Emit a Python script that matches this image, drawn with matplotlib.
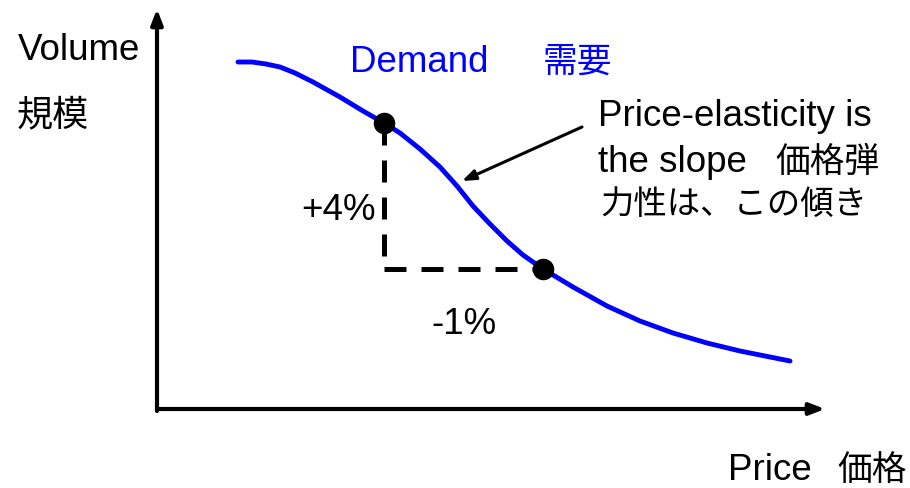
import matplotlib.pyplot as plt

plt.rcParams['font.family'] = ['Liberation Sans', 'Noto Sans CJK JP', 'DejaVu Sans']

# demand curve (pixel-like units, y grows downward)
curve_x = [238, 252, 266, 280, 295, 313, 340, 363, 384, 400, 420, 440, 457,
           473, 490, 507, 523, 543, 573, 607, 640, 673, 707, 740, 765, 790]
curve_y = [63, 63, 65, 68, 74, 83, 98, 112, 124, 134, 150, 168, 187,
           207, 225, 242, 256, 270, 288, 307, 322, 334, 344, 352, 357, 362]

# the two marked points on the curve
point_x = [384, 543]
point_y = [124, 270]

fig = plt.figure(figsize=(9.1, 4.89), dpi=100, facecolor='white')
ax = fig.add_axes([0, 0, 1, 1])
ax.set_xlim(0, 910)
ax.set_ylim(489, 0)
ax.axis('off')

# axes with arrow heads
arrow_style = dict(arrowstyle='-|>,head_length=0.9,head_width=0.35', lw=3,
                   color='black', shrinkA=0, shrinkB=0)
ax.annotate('', xy=(157, 10), xytext=(157, 412), arrowprops=arrow_style)
ax.annotate('', xy=(825, 410), xytext=(158, 410), arrowprops=arrow_style)

# dashed triangle
ax.plot([point_x[0], point_x[0]], [point_y[0], point_y[1]], color='black',
        lw=3.6, dashes=(4.4, 3))
ax.plot([point_x[0], point_x[1]], [point_y[1], point_y[1]], color='black',
        lw=3.6, dashes=(4.4, 3))

ax.plot(curve_x, curve_y, color='#0000ff', lw=3.5, solid_capstyle='round',
        solid_joinstyle='round')
ax.plot(point_x, point_y, 'o', color='black', markersize=14.5)

# arrow pointing at the slope
ax.annotate('', xy=(462, 182), xytext=(582, 128),
            arrowprops=dict(arrowstyle='-|>,head_length=0.8,head_width=0.3',
                            lw=2.2, color='black', shrinkA=0, shrinkB=0))

fs = 26.5
fs_cjk = 25
ax.text(18, 50, 'Volume', fontsize=fs, va='center', ha='left')
ax.text(17, 116, '規模', fontsize=26, va='center', ha='left')
ax.text(350, 62, 'Demand', fontsize=fs, va='center', ha='left',
        color='#0000ff')
ax.text(543, 62, '需要', fontsize=fs_cjk, va='center', ha='left',
        color='#0000ff')
ax.text(598, 116, 'Price-elasticity is', fontsize=fs, va='center', ha='left')
ax.text(598, 162, 'the slope', fontsize=fs, va='center', ha='left')
ax.text(775, 162, '価格弾', fontsize=fs_cjk, va='center', ha='left')
ax.text(600, 205, '力性は、この傾き', fontsize=24, va='center', ha='left')
ax.text(376, 211, '+4%', fontsize=fs, va='center', ha='right')
ax.text(464, 325, '-1%', fontsize=fs, va='center', ha='center')
ax.text(728, 471, 'Price', fontsize=fs, va='center', ha='left')
ax.text(837, 471, '価格', fontsize=fs_cjk, va='center', ha='left')

fig.savefig('out.png', dpi=100, facecolor='white')
